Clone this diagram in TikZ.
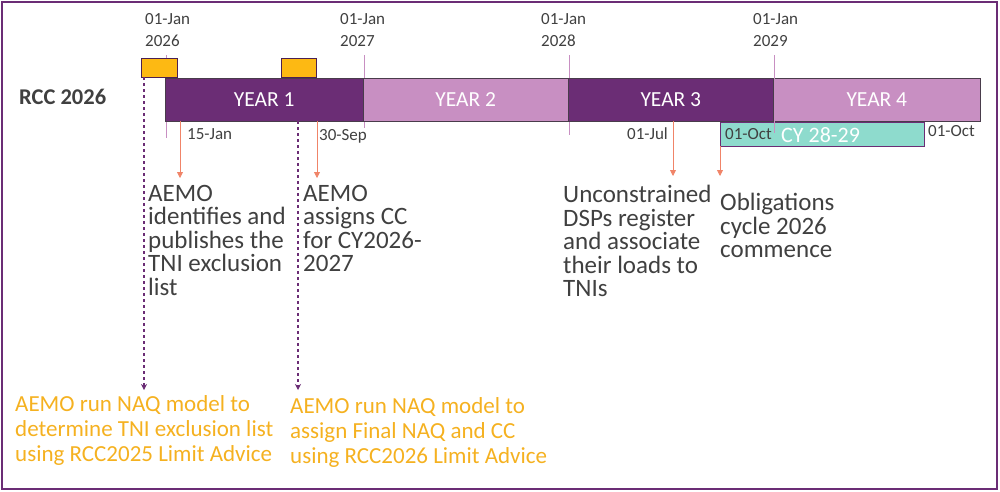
\documentclass[tikz,border=0pt]{standalone}
\usepackage{fontspec}
\setmainfont{Carlito}
\usetikzlibrary{arrows.meta}
\definecolor{dp}{HTML}{6B2D75}
\definecolor{lp}{HTML}{C88FC2}
\definecolor{org}{HTML}{FDB913}
\definecolor{tl}{HTML}{8EDBCD}
\definecolor{rd}{HTML}{F08468}
\definecolor{txt}{HTML}{404040}
\definecolor{otx}{HTML}{F5B120}
\begin{document}
\begin{tikzpicture}[x=1pt,y=-1pt,
  yr/.style={draw=txt!80!dp,line width=0.6pt,inner sep=0,anchor=north west,text=white,font=\fontsize{21.5}{21.5}\selectfont},
  dt/.style={anchor=west,text=txt,font=\fontsize{17}{22}\selectfont,align=left,inner sep=0},
  tick/.style={lp,line width=1pt},
  ra/.style={rd,line width=0.8pt,-{Triangle[width=6pt,length=6pt]}},
  da/.style={dp,line width=1.2pt,dashed,-{Stealth[width=6pt,length=6pt]}},
  bt/.style={anchor=north west,text=txt,font=\fontsize{25}{23.5}\selectfont,align=left,inner sep=0},
  ot/.style={anchor=north west,text=otx,font=\fontsize{23}{25}\selectfont,align=left,inner sep=0}]
\useasboundingbox (0,0) rectangle (1000,491);
\draw[dp,line width=1.5pt] (2,2) rectangle (997,489);
% ticks
\draw[tick] (166,55) coordinate(t1a) -- (166,138) coordinate(t1b);
\draw[tick] (364,55) coordinate(t2a) -- (364,128) coordinate(t2b);
\draw[tick] (569,55) coordinate(t3a) -- (569,135) coordinate(t3b);
% year bars
\node[yr,fill=dp,minimum width=198pt,minimum height=43pt] (y1) at (165,78) {YEAR 1};
\node[yr,fill=lp,minimum width=205pt,minimum height=43pt] (y2) at (363,78) {YEAR 2};
\node[yr,fill=dp,minimum width=205pt,minimum height=43pt] (y3) at (568,78) {YEAR 3};
\node[yr,fill=lp,minimum width=207pt,minimum height=43pt] (y4) at (773,78) {YEAR 4};
\node[draw=dp,fill=tl,line width=0.8pt,anchor=north west,minimum width=204pt,minimum height=24pt,inner sep=0] (cy) at (720,122) {};
\node[anchor=west,text=white,font=\fontsize{22}{22}\selectfont,inner sep=0] (cyl) at (781,135) {CY 28-29};
\node[dt] (oc1) at (725,134) {01-Oct};
\draw[tick] (774,55) coordinate(t4a) -- (774,133) coordinate(t4b);
% orange boxes
\node[draw=dp!70!black,fill=org,line width=0.8pt,anchor=north west,minimum width=36pt,minimum height=19pt,inner sep=0] (o1) at (141,58) {};
\node[draw=dp!70!black,fill=org,line width=0.8pt,anchor=north west,minimum width=35pt,minimum height=19pt,inner sep=0] (o2) at (281,58) {};
% date labels
\node[dt] (d26) at (145,30) {01-Jan\\2026};
\node[dt] (d27) at (340,30) {01-Jan\\2027};
\node[dt] (d28) at (541,30) {01-Jan\\2028};
\node[dt] (d29) at (753,30) {01-Jan\\2029};
\node[anchor=west,text=txt,font=\fontsize{22.5}{22.5}\selectfont\bfseries,inner sep=0] (rcc) at (19,97) {RCC 2026};
\node[dt] (j15) at (187,134) {15-Jan};
\node[dt] (s30) at (319,136) {30-Sep};
\node[dt] (jl1) at (627,134) {01-Jul};
\node[dt] (oc2) at (928,131) {01-Oct};
% body texts
\node[bt] (b1) at (148,185) {AEMO\\identifies and\\publishes the\\TNI exclusion\\list};
\node[bt] (b2) at (303,185) {AEMO\\assigns CC\\for CY2026-\\2027};
\node[bt] (b3) at (563,185) {Unconstrained\\DSPs register\\and associate\\their loads to\\TNIs};
\node[bt] (b4) at (720,193) {Obligations\\cycle 2026\\commence};
\node[ot] (g1) at (15,395) {AEMO run NAQ model to\\determine TNI exclusion list\\using RCC2025 Limit Advice};
\node[ot] (g2) at (290,397) {AEMO run NAQ model to\\assign Final NAQ and CC\\using RCC2026 Limit Advice};
% arrows
\coordinate (r1) at (180,121); \coordinate (r1e) at (180,178);
\coordinate (r2) at (317,121); \coordinate (r2e) at (317,178);
\coordinate (r3) at (673,121); \coordinate (r3e) at (673,176);
\coordinate (r4) at (720,146); \coordinate (r4e) at (720,176);
\draw[ra] (r1) -- (r1e);
\draw[ra] (r2) -- (r2e);
\draw[ra] (r3) -- (r3e);
\draw[ra] (r4) -- (r4e);
\coordinate (p1) at (144,77); \coordinate (p1e) at (144,390);
\coordinate (p2) at (298,121); \coordinate (p2e) at (298,390);
\draw[da] (p1) -- (p1e);
\draw[da] (p2) -- (p2e);
\end{tikzpicture}
\end{document}
